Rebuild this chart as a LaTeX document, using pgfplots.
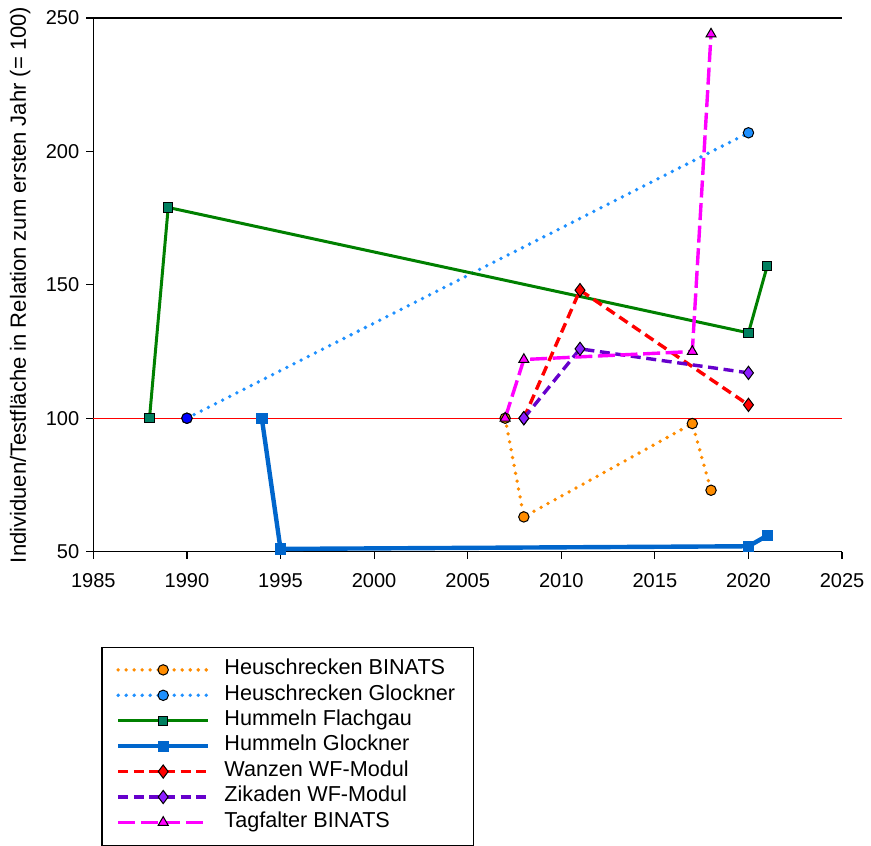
\documentclass[border=0pt]{standalone}
\usepackage{fontspec}
\setmainfont{Liberation Sans}
\usepackage{pgfplots}
\pgfplotsset{compat=1.18}
\definecolor{cOrange}{RGB}{255,140,0}
\definecolor{cDodger}{RGB}{30,144,255}
\definecolor{cGreen}{RGB}{0,128,0}
\definecolor{cTeal}{RGB}{0,128,96}
\definecolor{cBlue}{RGB}{0,102,204}
\definecolor{cPurpleL}{RGB}{102,0,204}
\definecolor{cPurpleM}{RGB}{140,30,255}
\definecolor{cMag}{RGB}{255,0,255}
\begin{document}
\begin{tikzpicture}
\begin{axis}[
  scale only axis, width=374pt, height=266.5pt,
  xmin=1985, xmax=2025, ymin=50, ymax=250,
  axis x line*=bottom, axis y line*=left,
  xtick={1985,1990,...,2025}, ytick={50,100,...,250},
  tick align=outside, major tick length=3.5pt,
  tick style={black, line width=0.6pt},
  axis line style={line width=0.6pt},
  /pgf/number format/1000 sep={},
  /pgf/number format/assume math mode=true,
  ticklabel style={font=\fontsize{10}{11}\selectfont},
  xticklabel shift=4pt,
  ylabel={Individuen/Testfläche in Relation zum ersten Jahr (= 100)},
  ylabel style={font=\fontsize{11}{12}\selectfont, at={(axis description cs:-0.0976,0.5)}, anchor=center, inner ysep=5pt},
  legend style={at={(axis description cs:0.0107,-0.178)}, anchor=north west,
    draw=black, line width=0.6pt, font=\fontsize{10.8}{12}\selectfont,
    inner xsep=7pt, inner ysep=5pt, row sep=0pt,
    nodes={inner ysep=2.1pt, text height=6.6pt, text depth=1.9pt},
    /tikz/every odd column/.append style={column sep=5pt}},
  legend cell align=left,
  legend image code/.code={\draw[mark repeat=2,mark phase=2,#1] plot coordinates {(0pt,0pt) (22.5pt,0pt) (45pt,0pt)};},
  clip=false,
]
\addplot[red, line width=0.55pt, forget plot] coordinates {(1985,100) (2025,100)};

\addplot[cOrange, line width=1.9pt, line cap=round, dash pattern=on 0pt off 4pt,
  mark=*, mark size=2.6pt, mark options={solid, fill=cOrange, draw=black, line width=0.5pt}]
  coordinates {(2007,100) (2008,63) (2017,98) (2018,73)};
\addlegendentry{Heuschrecken BINATS\hspace{4pt}}

\addplot[cDodger, line width=1.9pt, line cap=round, dash pattern=on 0pt off 4pt,
  mark=*, mark size=2.6pt, mark options={solid, fill=cDodger, draw=black, line width=0.5pt}]
  coordinates {(1990,100) (2020,207)};
\addlegendentry{Heuschrecken Glockner\hspace{4pt}}

\addplot[cGreen, line width=1.5pt,
  mark=square*, mark size=2.3pt, mark options={solid, fill=cTeal, draw=black, line width=0.5pt}]
  coordinates {(1988,100) (1989,179) (2020,132) (2021,157)};
\addlegendentry{Hummeln Flachgau}

\addplot[cBlue, line width=2.2pt,
  mark=square*, mark size=2.6pt, mark options={solid, fill=cBlue, draw=cBlue, line width=0.3pt}]
  coordinates {(1994,100) (1995,51) (2020,52) (2021,56)};
\addlegendentry{Hummeln Glockner}

\addplot[red, line width=1.7pt, dash pattern=on 5pt off 2.8pt,
  mark=diamond*, mark size=3.3pt, mark options={solid, fill=red, draw=black, line width=0.5pt}]
  coordinates {(2008,100) (2011,148) (2020,105)};
\addlegendentry{Wanzen WF-Modul}

\addplot[cPurpleL, line width=1.7pt, dash pattern=on 5pt off 2.8pt,
  mark=diamond*, mark size=3.3pt, mark options={solid, fill=cPurpleM, draw=black, line width=0.5pt}]
  coordinates {(2008,100) (2011,126) (2020,117)};
\addlegendentry{Zikaden WF-Modul}

\addplot[cMag, line width=1.7pt, dash pattern=on 8.5pt off 2.8pt,
  mark=triangle*, mark size=2.9pt, mark options={solid, fill=cMag, draw=black, line width=0.5pt}]
  coordinates {(2007,100) (2008,122) (2017,125) (2018,244)};
\addlegendentry{Tagfalter BINATS}

\addplot[only marks, mark=*, mark size=2.6pt, mark options={fill=blue, draw=black, line width=0.5pt}, forget plot]
  coordinates {(1990,100)};

\draw[line width=0.6pt] (rel axis cs:0,1) -- (rel axis cs:1,1);
\end{axis}
\end{tikzpicture}
\end{document}
